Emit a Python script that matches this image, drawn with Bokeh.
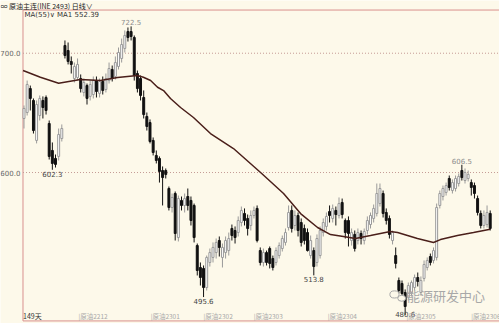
from bokeh.plotting import figure
from bokeh.models import Range1d, Label, ColumnDataSource
from bokeh.core.properties import value
from bokeh.embed import file_html
from bokeh.resources import INLINE

# ---------------- data ----------------
open_ = [645.3, 650.3, 670.4, 660.4, 626.9, 647.8, 660.4, 662.9, 641.1, 618.5,
         611.8, 613.5, 628.5, 706.5, 702.3, 693.1, 678.8, 679.7, 678.8, 667.1,
         672.9, 663.8, 665.4, 677.1, 666.3, 676.3, 669.6, 677.1, 686.4, 680.5,
         688.9, 695.6, 704.0, 718.2, 718.2, 713.2, 683.0, 678.8, 662.9, 647.0,
         641.9, 626.9, 614.3, 611.8, 601.7, 601.7, 586.6, 570.7, 582.4, 545.5,
         576.6, 572.4, 579.9, 576.6, 572.4, 538.8, 520.4, 519.6, 503.6, 524.6,
         528.8, 532.9, 543.0, 528.8, 532.9, 534.6, 553.1, 551.4, 549.7, 558.1,
         565.7, 561.5, 555.6, 564.0, 569.9, 534.6, 524.6, 532.9, 536.3, 527.9,
         524.6, 530.4, 536.3, 541.4, 553.9, 568.2, 555.6, 564.0, 558.1, 553.1,
         549.7, 530.4, 534.6, 524.6, 530.4, 549.7, 554.8, 567.3, 561.5, 568.2,
         564.0, 574.9, 559.8, 559.8, 543.0, 548.1, 543.0, 548.9, 543.0, 551.4,
         556.4, 561.5, 565.7, 574.0, 582.4, 566.5, 561.5, 543.0, 530.4, 509.5,
         507.0, 499.4, 495.3, 499.4, 503.6, 512.0, 499.4, 511.2, 520.4, 529.6,
         526.3, 528.8, 572.4, 579.9, 583.3, 595.0, 584.9, 586.6, 590.8, 601.7,
         593.3, 595.0, 591.6, 589.1, 578.2, 565.7, 555.6, 556.4, 565.7]
close = [653.7, 673.8, 662.1, 635.2, 657.0, 662.1, 654.5, 652.0, 613.5, 607.6,
         606.8, 631.9, 636.9, 698.1, 693.1, 690.6, 688.9, 690.6, 670.4, 675.5,
         662.1, 673.8, 677.1, 667.9, 676.3, 668.8, 678.8, 687.2, 678.8, 692.2,
         700.6, 707.3, 714.9, 713.2, 714.0, 681.3, 670.4, 664.6, 648.6, 638.6,
         626.0, 616.8, 610.1, 600.9, 595.8, 598.4, 570.7, 579.1, 548.9, 578.2,
         572.4, 578.2, 572.4, 559.8, 545.5, 517.9, 512.0, 503.6, 528.8, 532.9,
         537.2, 541.4, 537.2, 537.2, 543.0, 544.7, 547.2, 545.5, 559.8, 568.2,
         559.8, 553.1, 564.0, 568.2, 543.0, 524.6, 532.9, 524.6, 523.8, 520.4,
         534.6, 538.8, 544.7, 549.7, 566.5, 553.1, 564.0, 551.4, 541.4, 543.0,
         534.6, 543.0, 521.2, 544.7, 551.4, 558.1, 563.2, 564.0, 569.9, 564.8,
         574.0, 564.8, 549.7, 548.9, 549.7, 536.3, 549.7, 544.7, 550.6, 559.8,
         564.0, 569.9, 582.4, 586.6, 565.7, 559.8, 548.1, 549.7, 523.8, 501.1,
         498.6, 487.7, 505.3, 507.8, 512.0, 508.7, 509.5, 522.9, 526.3, 524.6,
         534.6, 570.7, 582.4, 586.6, 589.1, 587.5, 591.6, 595.0, 596.7, 595.8,
         600.0, 598.4, 587.5, 582.4, 566.5, 555.6, 564.0, 566.5, 553.1]
high = [656.2, 677.1, 672.9, 662.1, 660.4, 664.6, 663.8, 664.6, 643.6, 625.2,
        615.1, 636.9, 640.3, 710.7, 709.0, 697.3, 692.2, 695.6, 682.2, 678.8,
        674.6, 677.1, 680.5, 680.5, 678.8, 680.5, 683.0, 692.2, 689.7, 697.3,
        704.8, 712.3, 719.1, 721.6, 722.5, 714.9, 685.5, 681.3, 668.8, 650.3,
        644.5, 629.4, 618.5, 613.5, 605.1, 603.4, 588.3, 582.4, 584.1, 580.7,
        579.9, 582.4, 586.6, 579.9, 574.0, 540.5, 524.6, 522.1, 530.4, 536.3,
        541.4, 544.7, 546.4, 540.5, 546.4, 549.7, 556.4, 554.8, 563.2, 571.5,
        569.9, 564.8, 568.2, 571.5, 572.4, 537.2, 536.3, 534.6, 538.0, 530.4,
        537.2, 541.4, 547.2, 553.1, 572.4, 572.4, 568.2, 566.5, 561.5, 556.4,
        553.1, 547.2, 537.2, 548.1, 554.8, 561.5, 566.5, 572.4, 573.2, 571.5,
        579.1, 578.2, 561.5, 563.2, 553.1, 551.4, 553.1, 551.4, 553.1, 563.2,
        566.5, 573.2, 590.8, 590.8, 584.9, 569.9, 564.0, 551.4, 537.2, 512.0,
        509.5, 502.0, 507.8, 509.5, 514.5, 516.2, 512.9, 526.3, 528.8, 532.1,
        537.2, 574.0, 584.9, 589.1, 591.6, 597.5, 594.2, 597.5, 599.2, 606.5,
        603.4, 601.7, 594.2, 591.6, 580.7, 568.2, 568.2, 572.4, 568.2]
low = [636.9, 647.8, 652.0, 632.7, 624.4, 643.6, 645.3, 648.6, 610.9, 602.3,
       604.2, 610.1, 626.0, 695.6, 690.6, 683.0, 675.5, 677.1, 667.1, 663.8,
       657.0, 660.4, 662.1, 662.9, 662.9, 665.4, 667.1, 674.6, 676.3, 678.0,
       686.4, 692.2, 700.6, 709.8, 710.7, 677.1, 667.1, 660.4, 645.3, 635.2,
       624.4, 614.3, 607.6, 591.6, 572.4, 595.0, 568.2, 566.5, 543.0, 542.2,
       568.2, 566.5, 568.2, 555.6, 541.4, 513.7, 505.3, 495.6, 501.1, 521.2,
       524.6, 527.9, 529.6, 520.4, 527.9, 530.4, 543.0, 540.5, 546.4, 554.8,
       555.6, 547.2, 551.4, 561.5, 541.4, 522.1, 521.2, 522.1, 519.6, 517.9,
       522.1, 527.9, 533.8, 538.8, 551.4, 549.7, 551.4, 546.4, 538.0, 539.7,
       533.8, 527.9, 513.8, 521.2, 527.9, 546.4, 551.4, 558.1, 558.1, 555.6,
       561.5, 561.5, 544.7, 538.0, 538.8, 533.8, 539.7, 539.7, 539.7, 548.1,
       553.1, 558.1, 563.2, 571.5, 562.3, 556.4, 544.7, 539.7, 519.6, 498.6,
       496.1, 480.6, 492.7, 496.1, 501.1, 504.5, 496.9, 508.7, 517.9, 522.1,
       523.8, 526.3, 569.9, 576.6, 580.7, 584.9, 582.4, 584.1, 588.3, 593.3,
       590.8, 592.5, 580.7, 578.2, 564.0, 553.1, 553.1, 553.9, 551.4]

# MA(55) line, read at sample positions (candle index, value)
ma_idx = [-0.3, 5.2, 11.0, 17.9, 24.3, 29.7, 36.0, 37.9, 40.2, 42.4, 44.3, 46.5,
          49.7, 53.8, 59.2, 66.5, 75.1, 82.4, 87.8, 93.2, 97.3, 101.4, 105.2,
          110.0, 116.3, 118.6, 124.9, 130.0, 132.2, 137.6, 142.7, 148.0]
ma_val = [685.5, 679.9, 674.9, 678.0, 677.1, 679.6, 681.3, 679.9, 677.1, 671.5,
          668.7, 662.0, 654.5, 646.1, 632.7, 620.1, 600.0, 582.4, 565.6, 553.9,
          548.0, 546.4, 544.7, 547.2, 550.6, 549.7, 544.7, 541.3, 543.8, 547.2,
          549.7, 552.4]

# marked extremes (candle index, value, is_high)
mark_idx = [34, 9, 57, 92, 121, 139]
mark_val = [722.5, 602.3, 495.6, 513.8, 480.6, 606.5]
mark_high = [True, False, False, False, False, True]

# contract roll labels along the bottom
month_labels = ["|原油2212", "|原油2301", "|原油2302", "|原油2303",
                "|原油2304", "|原油2305", "|原油2306"]
month_pos = [17.3, 40.2, 57.0, 72.9, 96.4, 121.4, 142.0]

y_ticks = [700, 600]

# ---------------- figure ----------------
BG = "#FDF9EA"
BORDER = "#D9918E"
n = len(open_)
idx = list(range(n))
up = [c >= o for o, c in zip(open_, close)]
body_fill = ["#FFFFFF" if u else "#111111" for u in up]
body_line = ["#9A9A9A" if u else "#111111" for u in up]
wick_col = ["#9A9A9A" if u else "#111111" for u in up]
top = [max(o, c) for o, c in zip(open_, close)]
bot = [min(o, c) for o, c in zip(open_, close)]

src = ColumnDataSource(dict(x=idx, top=top, bot=bot, high=high, low=low,
                            fill=body_fill, line=body_line, wick=wick_col))

# the frame covers the whole canvas; the price pane starts at x=22, y=9
XR = (-7.46, 150.95)
YR = (473.45, 744.2)
PANE_L, PANE_R = -0.32, 150.95
PANE_T, PANE_B = 736.2, 475.6

p = figure(width=499, height=323, output_backend="svg", toolbar_location=None,
           x_range=Range1d(*XR), y_range=Range1d(*YR),
           x_axis_type=None, y_axis_type=None,
           min_border=0)
p.background_fill_color = BG
p.border_fill_color = BG
p.outline_line_color = None
p.grid.visible = False

# pane edges: top, bottom, left
p.segment(x0=[PANE_L, PANE_L, PANE_L], y0=[PANE_T, PANE_B, PANE_T],
          x1=[PANE_R, PANE_R, PANE_L], y1=[PANE_T, PANE_B, PANE_B],
          line_color=BORDER, line_width=1)

# dotted price levels and their labels
p.segment(x0=[PANE_L] * len(y_ticks), y0=y_ticks, x1=[PANE_R] * len(y_ticks),
          y1=y_ticks, line_color="#C49A94", line_dash="1 2", line_width=1)
p.text(x=[-1.15] * len(y_ticks), y=y_ticks, text=[f"{t:.1f}" for t in y_ticks],
       text_align="right", text_baseline="middle", text_font_size="7px",
       text_color="#666666", text_font=value("DejaVu Sans"))

p.segment(x0="x", y0="high", x1="x", y1="low", line_color="wick",
          line_width=1, source=src)
p.vbar(x="x", top="top", bottom="bot", width=0.62, fill_color="fill",
       line_color="line", line_width=1, source=src)

p.line(ma_idx, ma_val, line_color="#4A1F1A", line_width=1.5)

mark_off = [-1, 1, 1, 1, -4, -1]
for i, v, h, off in zip(mark_idx, mark_val, mark_high, mark_off):
    p.text(x=[i], y=[v], text=[f"{v:.1f}"], text_align="center",
           text_baseline="bottom" if h else "top",
           y_offset=off, text_font_size="7px",
           text_color="#8C8C8C" if h else "#444444",
           text_font=value("DejaVu Sans"))

p.text(x=month_pos, y=[479.6] * len(month_pos), text=month_labels,
       text_align="left", text_baseline="middle", text_font_size="6.5px",
       text_color="#A8A8A8", text_font=value("Noto Sans CJK SC"))
p.text(x=[-0.3], y=[479.6], text=["149天"], text_align="left",
       text_baseline="middle", text_font_size="7px", text_color="#333333",
       text_font=value("Noto Sans CJK SC"))

# watermark: chat-bubble icon + name
p.ellipse(x=[117.6, 119.9], y=[497.8, 494.6], width=[2.9, 2.5], height=[6.0, 5.0],
          fill_color=BG, line_color="#A8A8A8", line_width=1)
p.text(x=[121.6], y=[497.0], text=["能源研发中心"], text_align="left",
       text_baseline="middle", text_font_size="13px", text_color="#A8A8A8",
       text_font=value("Noto Sans CJK SC"))

# header texts (screen units: y measured up from the bottom of the canvas)
p.add_layout(Label(x=0, x_units="screen", y=318, y_units="screen",
                   text="∞ 原油主连(INE 2493)  日线∨", text_align="left",
                   text_baseline="middle", text_font_size="7px",
                   text_color="#222222", text_font="Noto Sans CJK SC"))
p.add_layout(Label(x=24, x_units="screen", y=308.5, y_units="screen",
                   text="MA(55)∨  MA1 552.39", text_align="left",
                   text_baseline="middle", text_font_size="7px",
                   text_color="#333333", text_font="DejaVu Sans"))

open("out.html", "w").write(file_html(p, INLINE))
